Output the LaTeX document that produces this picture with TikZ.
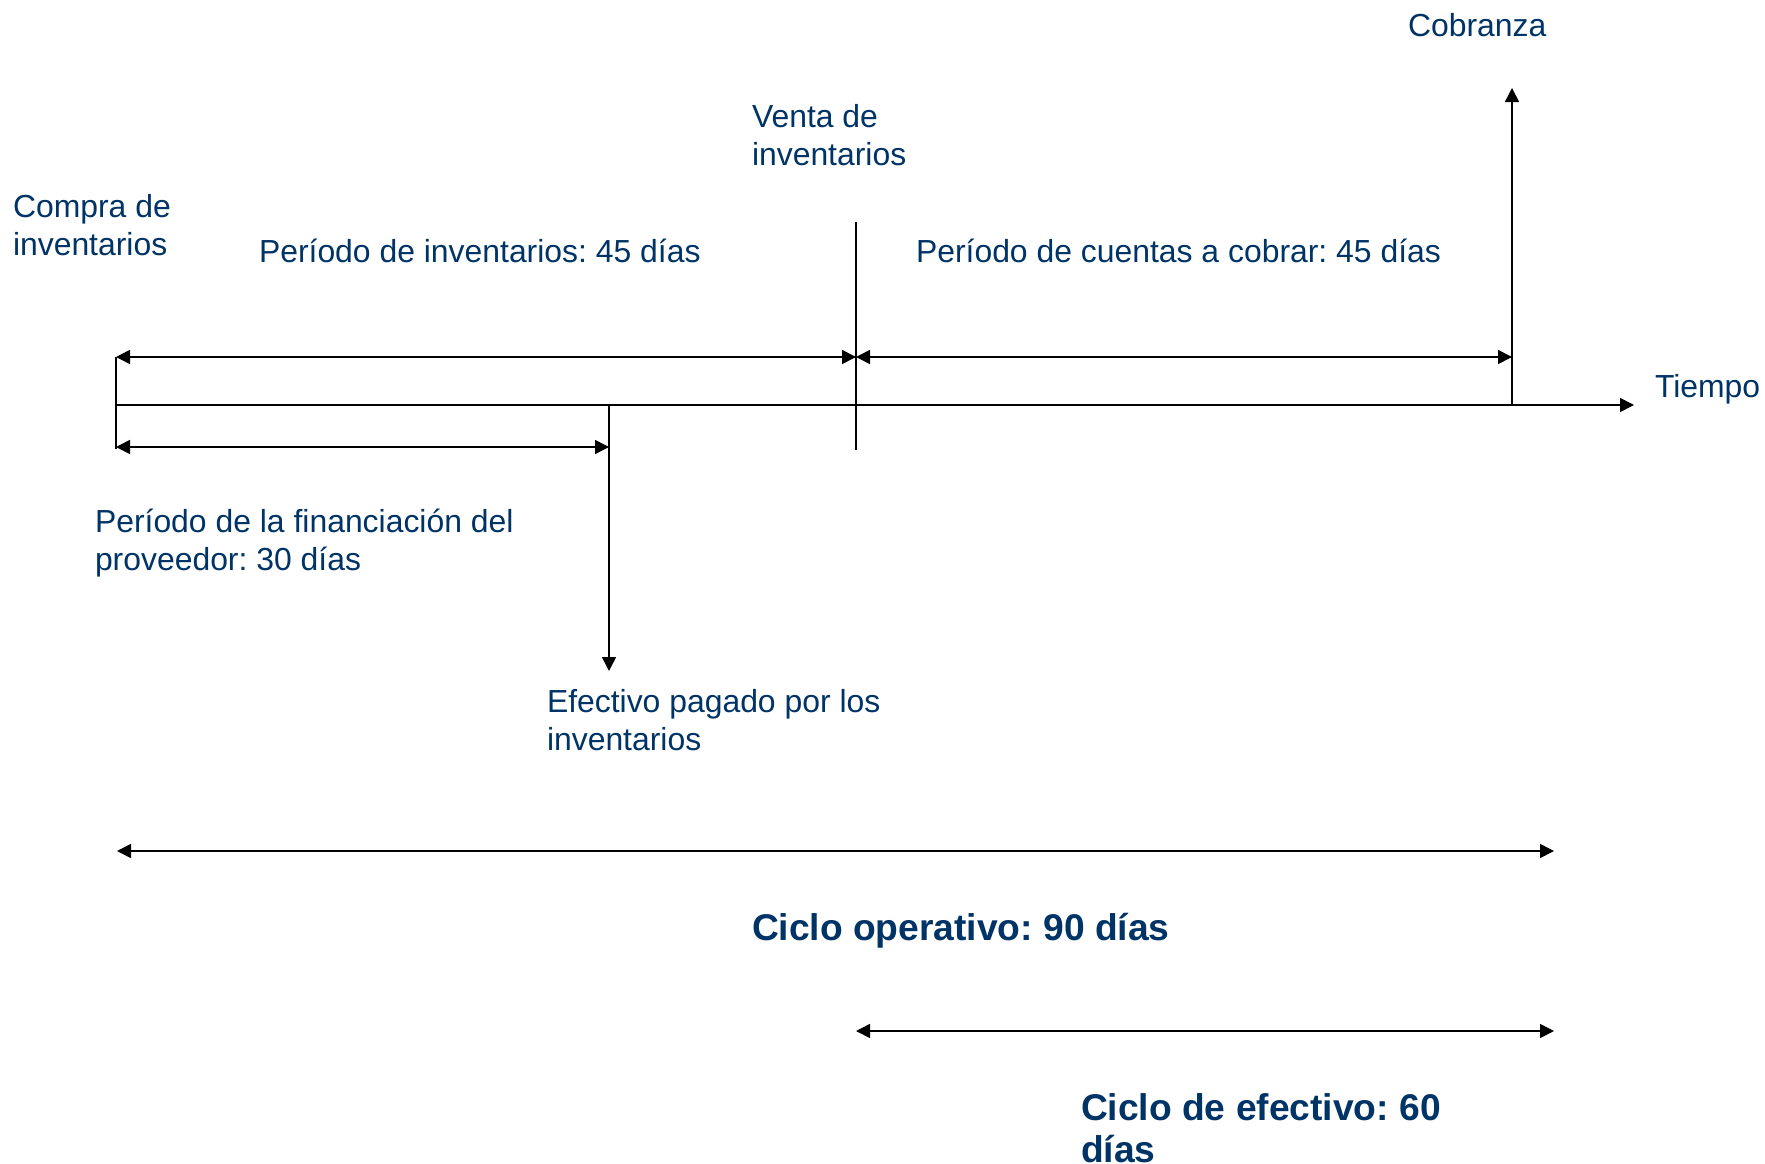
\documentclass[tikz,border=0pt]{standalone}
\usepackage{fontspec}
\setmainfont{Liberation Sans}
\frenchspacing
\usetikzlibrary{arrows.meta}
\definecolor{txtblue}{RGB}{0,51,102}
\begin{document}
\begin{tikzpicture}[x=1pt,y=-1pt,
  lbl/.style={anchor=base west,inner sep=0pt,outer sep=0pt,text=txtblue,
    font=\fontsize{31.9}{38}\selectfont,align=left},
  blbl/.style={lbl,font=\fontsize{37.2}{42}\selectfont\bfseries},
  ln/.style={line width=1.6pt,draw=black},
  tln/.style={line width=1.3pt,draw=black},
  tipend/.style={-{Triangle[length=14pt,width=14pt]}},
  dbl/.style={{Triangle[length=14pt,width=14pt]}-{Triangle[length=14pt,width=14pt]}}]
\useasboundingbox (0,0) rectangle (1765,1164);
% points
\coordinate (t0) at (116,405);
\coordinate (tend) at (1634,405);
\coordinate (lvTop) at (116,357);
\coordinate (lvBot) at (116,449);
\coordinate (vTop) at (856,222);
\coordinate (vBot) at (856,450);
\coordinate (vA) at (856,357);
\coordinate (cA) at (1512,357);
\coordinate (cBase) at (1512,405);
\coordinate (cTip) at (1512,88);
\coordinate (lA) at (116,447);
\coordinate (fA) at (609,447);
\coordinate (pTop) at (609,405);
\coordinate (pTip) at (609,671);
\coordinate (co1) at (117,851);
\coordinate (co2) at (1554,851);
\coordinate (ce1) at (856,1031);
\coordinate (ce2) at (1554,1031);
% texts (multi-line nodes: base = baseline of last line)
\node[lbl] (compra) at (13,255) {Compra de\\inventarios};
\node[lbl] (pinv) at (259,262) {Período de inventarios: 45 días};
\node[lbl] (venta) at (752,165) {Venta de\\inventarios};
\node[lbl] (pcc) at (916,262) {Período de cuentas a cobrar: 45 días};
\node[lbl] (cobr) at (1408,37) {Cobranza};
\node[lbl] (tiempo) at (1655,397) {Tiempo};
\node[lbl] (pfin) at (95,570) {Período de la financiación del\\proveedor: 30 días};
\node[lbl] (efec) at (547,750) {Efectivo pagado por los\\inventarios};
\node[blbl] (cop) at (752,940) {Ciclo operativo: 90 días};
\node[blbl] (cef) at (1081,1162) {Ciclo de efectivo: 60\\días};
% lines
\draw[ln,tipend] (t0) -- (tend);
\draw[tln] (lvTop) -- (lvBot);
\draw[tln] (vTop) -- (vBot);
\draw[ln,dbl] (lvTop) -- (vA);
\draw[ln,dbl] (vA) -- (cA);
\draw[ln,tipend] (cBase) -- (cTip);
\draw[ln,dbl] (lA) -- (fA);
\draw[ln,tipend] (pTop) -- (pTip);
\draw[ln,dbl] (co1) -- (co2);
\draw[ln,dbl] (ce1) -- (ce2);
\end{tikzpicture}
\end{document}
